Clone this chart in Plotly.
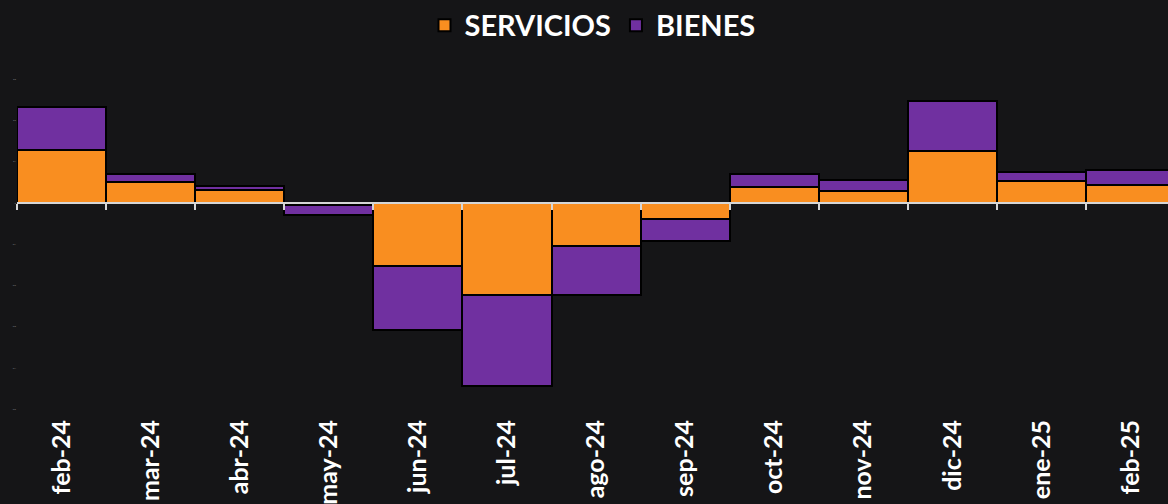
import plotly.graph_objects as go

months = ["feb-24", "mar-24", "abr-24", "may-24", "jun-24", "jul-24", "ago-24",
          "sep-24", "oct-24", "nov-24", "dic-24", "ene-25", "feb-25"]
servicios = [0.129, 0.051, 0.032, -0.006, -0.153, -0.223, -0.104,
             -0.040, 0.038, 0.029, 0.126, 0.053, 0.044]
bienes = [0.103, 0.019, 0.010, -0.022, -0.155, -0.221, -0.119,
          -0.052, 0.032, 0.027, 0.121, 0.022, 0.036]

C_SERV = "#F98E20"
C_BIEN = "#7030A0"
BG = "#151517"
FONT = "Lato"

y_min, y_max = -0.512, 0.347

fig = go.Figure()
fig.add_trace(go.Bar(name="SERVICIOS", x=months, y=servicios,
                     marker=dict(color=C_SERV, line=dict(color="#000000", width=2))))
fig.add_trace(go.Bar(name="BIENES", x=months, y=bienes,
                     marker=dict(color=C_BIEN, line=dict(color="#000000", width=2))))
# invisible helper trace so the zero-positioned axis gets the same categories
fig.add_trace(go.Scatter(x=months, y=[0] * len(months), xaxis="x2", mode="markers",
                         marker=dict(opacity=0), showlegend=False, hoverinfo="skip"))

fig.update_layout(
    width=1168, height=504,
    paper_bgcolor=BG, plot_bgcolor=BG,
    barmode="relative", bargap=0,
    margin=dict(l=17, r=0, t=60, b=90, autoexpand=False),
    font=dict(family=FONT, color="#ffffff"),
    legend=dict(orientation="h", x=0.5, xanchor="center", y=1.098, yanchor="middle",
                font=dict(size=29, family=FONT, weight="bold", color="#ffffff"),
                traceorder="normal", bgcolor="rgba(0,0,0,0)", itemwidth=30),
    xaxis=dict(type="category", categoryorder="array", categoryarray=months,
               range=[-0.5, 12.42], showgrid=False, zeroline=False, showline=False,
               ticks="", tickangle=-90, automargin=False,
               tickfont=dict(size=25, family=FONT, weight="bold", color="#ffffff")),
    xaxis2=dict(type="category", categoryorder="array", categoryarray=months,
                overlaying="x", matches="x", anchor="free",
                position=(0 - y_min) / (y_max - y_min), automargin=False,
                showgrid=False, zeroline=False, showline=True, linecolor="#d6d6d6",
                linewidth=2, ticks="outside", ticklen=6, tickwidth=2, tickcolor="#d6d6d6",
                tickson="boundaries", showticklabels=False),
    yaxis=dict(range=[y_min, y_max], dtick=0.1, showgrid=False, zeroline=False,
               showline=False, ticks="", automargin=False,
               tickfont=dict(size=2, color="#9a9a9a")),
)

fig.write_html(
    "out.html",
    config={"displayModeBar": False},
    post_script="document.body.style.margin='0';document.body.style.background='#151517';"
                "document.body.style.overflow='hidden';",
)
